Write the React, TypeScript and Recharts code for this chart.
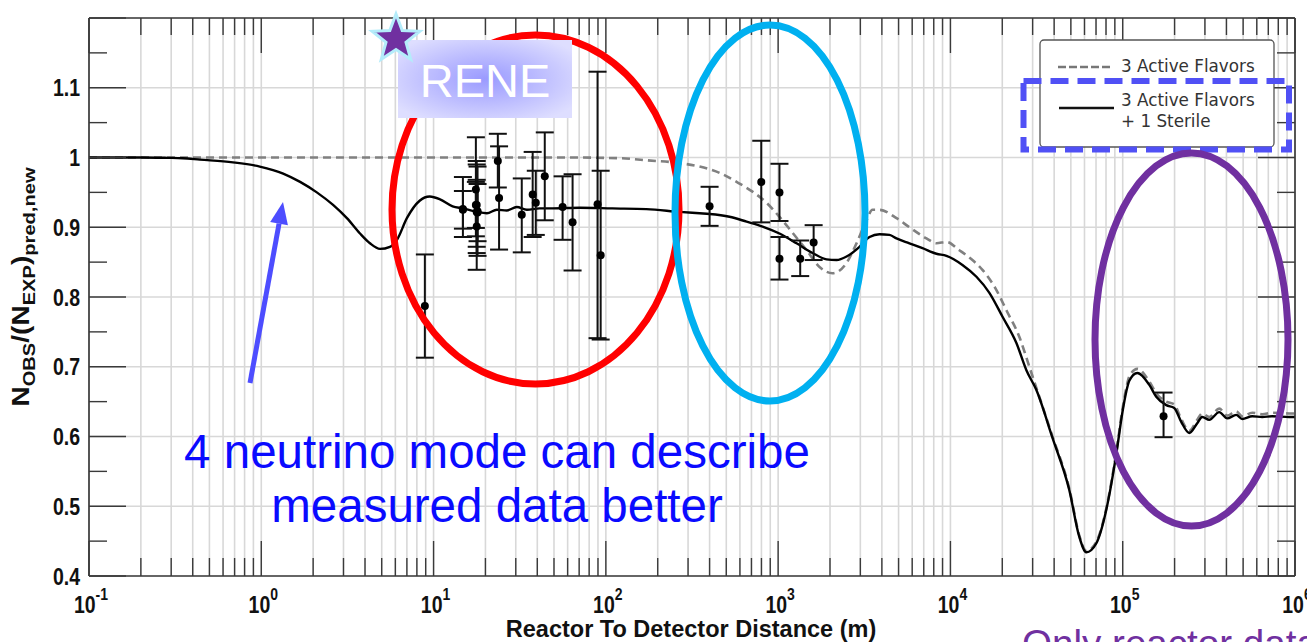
import React from 'react';
import { ComposedChart, Line, Scatter, XAxis, YAxis, CartesianGrid, ErrorBar } from 'recharts';

// ---------- data ----------
// 3 active + 1 sterile flavour (solid black)
const sterileX = [0.1, 0.2, 0.284, 0.35, 0.44, 0.685, 0.98, 1.34, 1.68, 2.1, 2.61, 3.14, 3.74, 4.27, 4.89, 5.58, 6.13, 7.0, 8.3, 9.5, 10.9, 12.9, 14.8, 17.8, 20.4, 23.3, 26.6, 30.4, 34.8, 41.3, 49.1, 70.4, 109, 172, 268, 350, 400, 522, 656, 812, 1018, 1279, 1585, 1910, 2183, 2496, 2967, 3390, 3874, 4428, 4864, 5781, 6883, 8298, 9482, 11740, 14160, 16830, 20030, 24150, 27600, 31500, 39000, 49000, 56000, 61500, 70300, 80300, 91800, 99500, 105000, 109200, 121600, 142700, 156600, 179000, 199000, 218600, 243300, 270800, 289400, 317900, 363300, 404300, 456000, 494000, 564600, 645300, 737600, 925000, 1000000];
const sterileY = [1.0, 1.0, 0.9995, 0.999, 0.997, 0.993, 0.987, 0.977, 0.965, 0.95, 0.932, 0.913, 0.891, 0.877, 0.869, 0.872, 0.882, 0.913, 0.938, 0.944, 0.94, 0.93, 0.927, 0.922, 0.92, 0.925, 0.924, 0.929, 0.925, 0.927, 0.927, 0.928, 0.927, 0.926, 0.922, 0.92, 0.919, 0.915, 0.908, 0.901, 0.891, 0.877, 0.863, 0.854, 0.853, 0.858, 0.872, 0.886, 0.89, 0.889, 0.884, 0.877, 0.87, 0.862, 0.859, 0.846, 0.829, 0.806, 0.772, 0.734, 0.695, 0.667, 0.599, 0.523, 0.456, 0.434, 0.447, 0.495, 0.575, 0.634, 0.665, 0.68, 0.691, 0.674, 0.657, 0.645, 0.641, 0.621, 0.605, 0.619, 0.628, 0.624, 0.635, 0.626, 0.631, 0.625, 0.629, 0.628, 0.629, 0.628, 0.628];

// 3 active flavours (grey dashed)
const activeX = [0.1, 1, 10, 60, 120, 172, 268, 350, 457, 574, 710, 857, 1018, 1213, 1462, 1739, 2069, 2496, 2851, 3258, 3530, 3874, 4864, 5781, 7258, 8298, 9482, 11270, 13420, 15340, 18490, 21130, 25100, 28720, 31500, 39000, 49000, 56000, 61500, 70300, 80300, 91800, 99500, 105000, 109200, 121600, 142700, 156600, 179000, 199000, 218600, 243300, 270800, 289400, 317900, 363300, 404300, 456000, 494000, 564600, 645300, 737600, 925000, 1000000];
const activeY = [1.0, 1.0, 1.0, 1.0, 0.999, 0.996, 0.992, 0.987, 0.978, 0.965, 0.951, 0.935, 0.915, 0.892, 0.867, 0.843, 0.834, 0.849, 0.877, 0.91, 0.925, 0.925, 0.913, 0.9, 0.884, 0.877, 0.879, 0.867, 0.853, 0.839, 0.81, 0.781, 0.743, 0.7, 0.67, 0.601, 0.525, 0.458, 0.436, 0.449, 0.497, 0.578, 0.638, 0.67, 0.686, 0.697, 0.679, 0.662, 0.65, 0.646, 0.625, 0.608, 0.624, 0.633, 0.628, 0.64, 0.63, 0.636, 0.629, 0.634, 0.632, 0.634, 0.633, 0.633];

// measured reactor points
const pointX = [8.9, 14.8, 14.8, 17.6, 17.8, 17.8, 18.0, 17.8, 17.6, 18.0, 23.6, 24.0, 32.5, 37.6, 39.2, 44.2, 56.1, 64.1, 89.5, 93.3, 400, 798, 1018, 1018, 1343, 1607, 172600];
const pointY = [0.787, 0.926, 0.925, 0.954, 0.932, 0.922, 0.923, 0.901, 0.932, 0.921, 0.995, 0.942, 0.918, 0.947, 0.935, 0.973, 0.929, 0.907, 0.933, 0.86, 0.93, 0.965, 0.95, 0.855, 0.855, 0.878, 0.629];
const errLow = [0.074, 0.040, 0.027, 0.067, 0.060, 0.059, 0.064, 0.062, 0.033, 0.041, 0.038, 0.074, 0.054, 0.061, 0.046, 0.063, 0.047, 0.069, 0.192, 0.121, 0.028, 0.058, 0.041, 0.030, 0.025, 0.025, 0.030];
const errHigh = [0.074, 0.046, 0.027, 0.075, 0.063, 0.068, 0.064, 0.067, 0.033, 0.041, 0.039, 0.074, 0.052, 0.061, 0.046, 0.063, 0.044, 0.069, 0.19, 0.121, 0.028, 0.059, 0.041, 0.031, 0.026, 0.025, 0.034];

// axes
const xDecades = [0.1, 1, 10, 100, 1000, 10000, 100000];
const xMinorSteps = [1, 2, 3, 4, 5, 6, 7, 8, 9];
const xEnd = 1000000;
const yMin = 0.4;
const yMax = 1.2;
const yTicks = [0.4, 0.45, 0.5, 0.55, 0.6, 0.65, 0.7, 0.75, 0.8, 0.85, 0.9, 0.95, 1.0, 1.05, 1.1, 1.15, 1.2];
const yGridValues = [0.5, 0.6, 0.7, 0.8, 0.9, 1.0, 1.1];
const yLabelled = [0.4, 0.5, 0.6, 0.7, 0.8, 0.9, 1.0, 1.1];

const xTicks: number[] = [...xDecades.flatMap((d) => xMinorSteps.map((m) => d * m)), xEnd];

const sterileData = sterileX.map((x, i) => ({ x, y: sterileY[i] }));
const activeData = activeX.map((x, i) => ({ x, y: activeY[i] }));
const pointData = pointX.map((x, i) => ({ x, y: pointY[i], err: [errLow[i], errHigh[i]] }));

// ---------- styles ----------
const W = 1307;
const H = 642;
const TICK = '#3a3a3a';
const FRAME = '#333';
const LAB_FONT = '"Liberation Sans", Arial, Helvetica, sans-serif';
const STRETCH = 1.22;

const isDecade = (v: number) => Math.abs(Math.log10(v) - Math.round(Math.log10(v))) < 1e-9;
const isMajorY = (v: number) => Math.abs(v * 10 - Math.round(v * 10)) < 1e-6;

const BottomTick = (props: any) => {
  const { x, y, payload } = props;
  const v = payload.value;
  const major = isDecade(v);
  const exp = Math.round(Math.log10(v));
  return (
    <g>
      <line x1={x} x2={x} y1={y} y2={y - (major ? 35 : 18)} stroke={TICK} strokeWidth={1.4} />
      {major && (
        <text
          transform={`translate(${x + 2},${y + 37}) scale(1,${STRETCH})`}
          textAnchor="middle"
          fontFamily={LAB_FONT}
          fontWeight="bold"
          fontSize={19.5}
          fill="#111"
        >
          10
          <tspan fontSize={14} dy={-11}>{exp < 0 ? `-${-exp}` : `${exp}`}</tspan>
        </text>
      )}
    </g>
  );
};

const TopTick = (props: any) => {
  const { x, y, payload } = props;
  const major = isDecade(payload.value);
  return <line x1={x} x2={x} y1={y} y2={y + (major ? 35 : 17)} stroke={TICK} strokeWidth={1.4} />;
};

const LeftTick = (props: any) => {
  const { x, y, payload } = props;
  const v = payload.value;
  const major = isMajorY(v);
  const labelled = yLabelled.some((l) => Math.abs(l - v) < 1e-6);
  return (
    <g>
      <line x1={x} x2={x + (major ? 37 : 18)} y1={y} y2={y} stroke={TICK} strokeWidth={1.4} />
      {labelled && (
        <text
          transform={`translate(${x - 9},${y + 8.5}) scale(1,${STRETCH})`}
          textAnchor="end"
          fontFamily={LAB_FONT}
          fontWeight="bold"
          fontSize={19.5}
          fill="#111"
        >
          {Math.abs(v - 1) < 1e-6 ? '1' : v.toFixed(1)}
        </text>
      )}
    </g>
  );
};

const RightTick = (props: any) => {
  const { x, y, payload } = props;
  const major = isMajorY(payload.value);
  return <line x1={x} x2={x - (major ? 37 : 18)} y1={y} y2={y} stroke={TICK} strokeWidth={1.4} />;
};

const YLabel = () => (
  <text
    transform={`translate(29,287) scale(1,${STRETCH}) rotate(-90)`}
    textAnchor="middle"
    fontFamily={LAB_FONT}
    fontWeight="bold"
    fontSize={23}
    fill="#111"
  >
    N
    <tspan fontSize={16.5} dy={6}>OBS</tspan>
    <tspan fontSize={23} dy={-6}>/(N</tspan>
    <tspan fontSize={16.5} dy={6}>EXP</tspan>
    <tspan fontSize={23} dy={-6}>)</tspan>
    <tspan fontSize={16.5} dy={6}>pred,new</tspan>
  </text>
);

const XLabel = () => (
  <text x={691} y={637} textAnchor="middle" fontFamily={LAB_FONT} fontWeight="bold" fontSize={23.5} fill="#111">
    Reactor To Detector Distance (m)
  </text>
);

const Dot = (p: any) => <circle cx={p.cx} cy={p.cy} r={4} fill="#000" />;

// star shape for overlay
const starPoints = (cx: number, cy: number, R: number, r: number) =>
  Array.from({ length: 10 }, (_, i) => {
    const a = ((-90 + i * 36) * Math.PI) / 180;
    const rad = i % 2 === 0 ? R : r;
    return `${(cx + rad * Math.cos(a)).toFixed(1)},${(cy + rad * Math.sin(a)).toFixed(1)}`;
  }).join(' ');

const Overlay = () => {
  const tail = { x: 250, y: 383 };
  const tip = { x: 283, y: 202 };
  const dx = tip.x - tail.x;
  const dy = tip.y - tail.y;
  const len = Math.hypot(dx, dy);
  const ux = dx / len;
  const uy = dy / len;
  const px = -uy;
  const py = ux;
  const headLen = 22;
  const headHalf = 9;
  const bx = tip.x - ux * headLen;
  const by = tip.y - uy * headLen;
  return (
    <svg width={W} height={H} style={{ position: 'absolute', left: 0, top: 0, pointerEvents: 'none' }}>
      <defs>
        <radialGradient id="reneGrad" cx="50%" cy="50%" r="62%">
          <stop offset="0%" stopColor="#9a9aff" />
          <stop offset="100%" stopColor="#dedeff" />
        </radialGradient>
      </defs>

      {/* legend */}
      <rect x={1040} y={40} width={234} height={107} rx={4} fill="#fff" stroke="#555" strokeWidth={1.3} />
      <line x1={1058} x2={1113} y1={67} y2={67} stroke="#777" strokeWidth={2.5} strokeDasharray="8 3" />
      <text x={1121} y={72} fontFamily='"DejaVu Sans", sans-serif' fontSize={16.8} fill="#333">3 Active Flavors</text>
      <line x1={1059} x2={1114} y1={108} y2={108} stroke="#111" strokeWidth={2.5} />
      <text x={1121} y={106} fontFamily='"DejaVu Sans", sans-serif' fontSize={16.8} fill="#333">3 Active Flavors</text>
      <text x={1121} y={127} fontFamily='"DejaVu Sans", sans-serif' fontSize={16.8} fill="#333">+ 1 Sterile</text>
      <rect x={1023.5} y={81} width={265.5} height={68.5} fill="none" stroke="#5050f5" strokeWidth={6} strokeDasharray="18 9" />

      {/* highlight ellipses */}
      <ellipse cx={535.5} cy={209.5} rx={143.5} ry={174.5} fill="none" stroke="#ff0000" strokeWidth={7} />
      <ellipse cx={770} cy={213} rx={95} ry={188} fill="none" stroke="#00b0f0" strokeWidth={7} />
      <ellipse cx={1191.5} cy={339.5} rx={96.5} ry={186.5} fill="none" stroke="#7030a0" strokeWidth={7} />

      {/* RENE label */}
      <rect x={398} y={40} width={174} height={78} fill="url(#reneGrad)" />
      <text x={485} y={97} textAnchor="middle" fontFamily={LAB_FONT} fontSize={47} fill="#ffffff">RENE</text>
      <polygon points={starPoints(396, 39, 25, 10.5)} fill="#7030a0" stroke="#b4ecfa" strokeWidth={3} />

      {/* arrow */}
      <line x1={tail.x} y1={tail.y} x2={bx} y2={by} stroke="#4d4dff" strokeWidth={5} />
      <polygon
        points={`${tip.x},${tip.y} ${bx + px * headHalf},${by + py * headHalf} ${bx - px * headHalf},${by - py * headHalf}`}
        fill="#4d4dff"
      />

      {/* annotation text */}
      <text x={497} y={468} textAnchor="middle" fontFamily={LAB_FONT} fontSize={47.5} fill="#0a0aff">
        4 neutrino mode can describe
      </text>
      <text x={497} y={522} textAnchor="middle" fontFamily={LAB_FONT} fontSize={47.5} fill="#0a0aff">
        measured data better
      </text>
      <text x={1022} y={657} fontFamily={LAB_FONT} fontSize={38.6} fill="#7030a0">
        Only reactor data
      </text>
    </svg>
  );
};

const gridRows = (args: any) => {
  const o = args.offset;
  return yGridValues.map((v) => o.top + ((yMax - v) / (yMax - yMin)) * o.height);
};

export default function App() {
  return (
    <div style={{ position: 'absolute', left: 0, top: 0, width: W, height: H, overflow: 'hidden', background: '#fff' }}>
      <ComposedChart width={W} height={H} margin={{ top: 0, right: 0, bottom: 0, left: 0 }}>
        <CartesianGrid
          horizontal={true}
          vertical={true}
          stroke="#d8d8d8"
          strokeWidth={1.6}
          horizontalCoordinatesGenerator={gridRows}
        />
        <XAxis
          xAxisId={0}
          dataKey="x"
          type="number"
          scale="log"
          domain={[0.1, 1000000]}
          allowDataOverflow
          ticks={xTicks}
          interval={0}
          height={66}
          tickSize={0}
          tickMargin={0}
          tickLine={false}
          axisLine={{ stroke: FRAME, strokeWidth: 1.6 }}
          tick={BottomTick}
          label={<XLabel />}
        />
        <XAxis
          xAxisId="top"
          orientation="top"
          dataKey="x"
          type="number"
          scale="log"
          domain={[0.1, 1000000]}
          allowDataOverflow
          ticks={xTicks}
          interval={0}
          height={18}
          tickSize={0}
          tickMargin={0}
          tickLine={false}
          axisLine={{ stroke: FRAME, strokeWidth: 1.6 }}
          tick={TopTick}
        />
        <YAxis
          yAxisId={0}
          dataKey="y"
          type="number"
          domain={[yMin, yMax]}
          allowDataOverflow
          ticks={yTicks}
          interval={0}
          width={89}
          tickSize={0}
          tickMargin={0}
          tickLine={false}
          axisLine={{ stroke: FRAME, strokeWidth: 1.6 }}
          tick={LeftTick}
          label={<YLabel />}
        />
        <YAxis
          yAxisId="right"
          orientation="right"
          type="number"
          domain={[yMin, yMax]}
          allowDataOverflow
          ticks={yTicks}
          interval={0}
          width={12}
          tickSize={0}
          tickMargin={0}
          tickLine={false}
          axisLine={{ stroke: FRAME, strokeWidth: 1.6 }}
          tick={RightTick}
        />
        <Line
          data={activeData}
          dataKey="y"
          type="monotone"
          stroke="#808080"
          strokeWidth={2.6}
          strokeDasharray="8 5"
          dot={false}
          isAnimationActive={false}
        />
        <Line
          data={sterileData}
          dataKey="y"
          type="monotone"
          stroke="#000"
          strokeWidth={2.4}
          dot={false}
          isAnimationActive={false}
        />
        <Scatter data={pointData} dataKey="y" shape={Dot} isAnimationActive={false}>
          <ErrorBar dataKey="err" direction="y" width={9} stroke="#111" strokeWidth={2} />
        </Scatter>
      </ComposedChart>
      <Overlay />
    </div>
  );
}
